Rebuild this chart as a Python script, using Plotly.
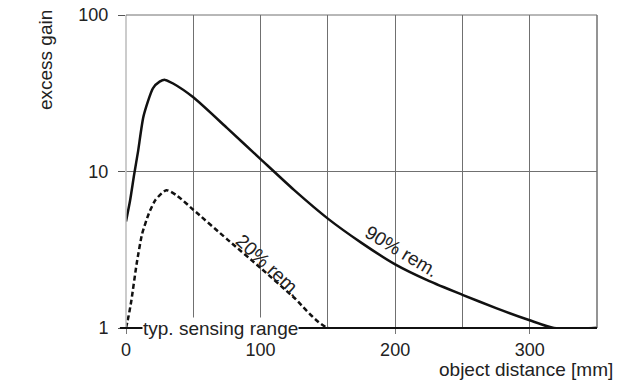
import plotly.graph_objects as go

# object distance [mm] and excess gain values
x_90 = [0, 3, 6, 9, 13, 20, 25, 29, 35, 50, 75, 100, 125, 150, 175, 200, 225, 250, 275, 300, 318, 350]
y_90 = [4.8, 6.5, 9.5, 13.5, 22.5, 34, 37.5, 38.5, 36.5, 29.8, 19.0, 12.0, 7.6, 5.0, 3.5, 2.55, 2.0, 1.63, 1.34, 1.12, 1.0, 1.0]

x_20 = [0, 2, 4, 8, 12, 17, 22, 30, 38, 50, 75, 100, 125, 150, 350]
y_20 = [1.0, 1.2, 1.5, 2.6, 4.0, 5.4, 6.6, 7.6, 7.0, 5.7, 3.7, 2.42, 1.56, 1.0, 1.0]

x_tickvals = [0, 100, 200, 300]
x_ticktext = ["0", "100", "200", "300"]
y_tickvals = [1, 10, 100]
y_ticktext = ["1", "10", "100"]

FONT = "Liberation Sans, Arial, sans-serif"
TXT = "#222222"
GRID = "#707070"

fig = go.Figure()
fig.add_trace(go.Scatter(x=x_20, y=y_20, mode="lines",
                         line=dict(color="#111111", width=2.5, dash="5px,3px", shape="spline", smoothing=0.6),
                         showlegend=False, hoverinfo="skip"))
fig.add_trace(go.Scatter(x=x_90, y=y_90, mode="lines",
                         line=dict(color="#111111", width=2.5, shape="spline", smoothing=0.6),
                         showlegend=False, hoverinfo="skip"))

fig.update_layout(
    width=643, height=380,
    margin=dict(l=126, r=46, t=15, b=52, autoexpand=False),
    paper_bgcolor="white", plot_bgcolor="white",
    font=dict(family=FONT, size=18, color=TXT),
    showlegend=False,
)

fig.update_xaxes(
    range=[0, 350],
    tickvals=x_tickvals, ticktext=x_ticktext,
    ticks="outside", ticklen=5, tickcolor="#777777", tickwidth=1,
    showgrid=True, gridcolor=GRID, gridwidth=1,
    minor=dict(dtick=50, tick0=0, showgrid=True, gridcolor=GRID, gridwidth=1, ticks=""),
    showline=False, zeroline=False, automargin=False,
    ticklabelstandoff=0,
    tickfont=dict(size=18, family=FONT, color=TXT),
)
fig.update_yaxes(
    type="log", range=[0, 2],
    tickvals=y_tickvals, ticktext=y_ticktext,
    ticks="outside", ticklen=7, tickcolor="#555555", tickwidth=1,
    showgrid=True, gridcolor=GRID, gridwidth=1,
    showline=False, zeroline=False, automargin=False,
    ticklabelstandoff=6,
    ticklabeloverflow="allow",
    tickfont=dict(size=18, family=FONT, color=TXT),
)

# frame: light left edge, dark top/right, black bottom
fig.add_shape(type="line", xref="paper", yref="paper", x0=0, x1=0, y0=0, y1=1,
              line=dict(color="#bbbbbb", width=1.5))
fig.add_shape(type="line", xref="paper", yref="paper", x0=1, x1=1, y0=0, y1=1,
              line=dict(color=GRID, width=1.5))
fig.add_shape(type="line", xref="paper", yref="paper", x0=0, x1=1, y0=1, y1=1,
              line=dict(color=GRID, width=1))
fig.add_shape(type="line", xref="paper", yref="paper", x0=-0.013, x1=1, y0=0, y1=0,
              line=dict(color="#111111", width=2))

fig.add_annotation(x=70, y=0, xref="x", yref="y", text="typ. sensing range",
                   showarrow=False, bgcolor="white", font=dict(size=19, family=FONT, color=TXT),
                   borderpad=0)
fig.add_annotation(x=106, y=0.40, xref="x", yref="y", text="20% rem.",
                   showarrow=False, textangle=43, font=dict(size=19, family=FONT, color=TXT))
fig.add_annotation(x=205, y=0.49, xref="x", yref="y", text="90% rem.",
                   showarrow=False, textangle=31, font=dict(size=19, family=FONT, color=TXT))

fig.add_annotation(x=1.038, y=-0.134, xref="paper", yref="paper", text="object distance [mm]",
                   showarrow=False, xanchor="right", yanchor="middle",
                   font=dict(size=19, family=FONT, color=TXT))
fig.add_annotation(x=-0.172, y=0.856, xref="paper", yref="paper", text="excess gain",
                   showarrow=False, textangle=-90, xanchor="center", yanchor="middle",
                   font=dict(size=19, family=FONT, color=TXT))

fig.write_html("out.html", config={"displayModeBar": False},
               post_script="document.body.style.margin='0';document.body.style.overflow='hidden';")
